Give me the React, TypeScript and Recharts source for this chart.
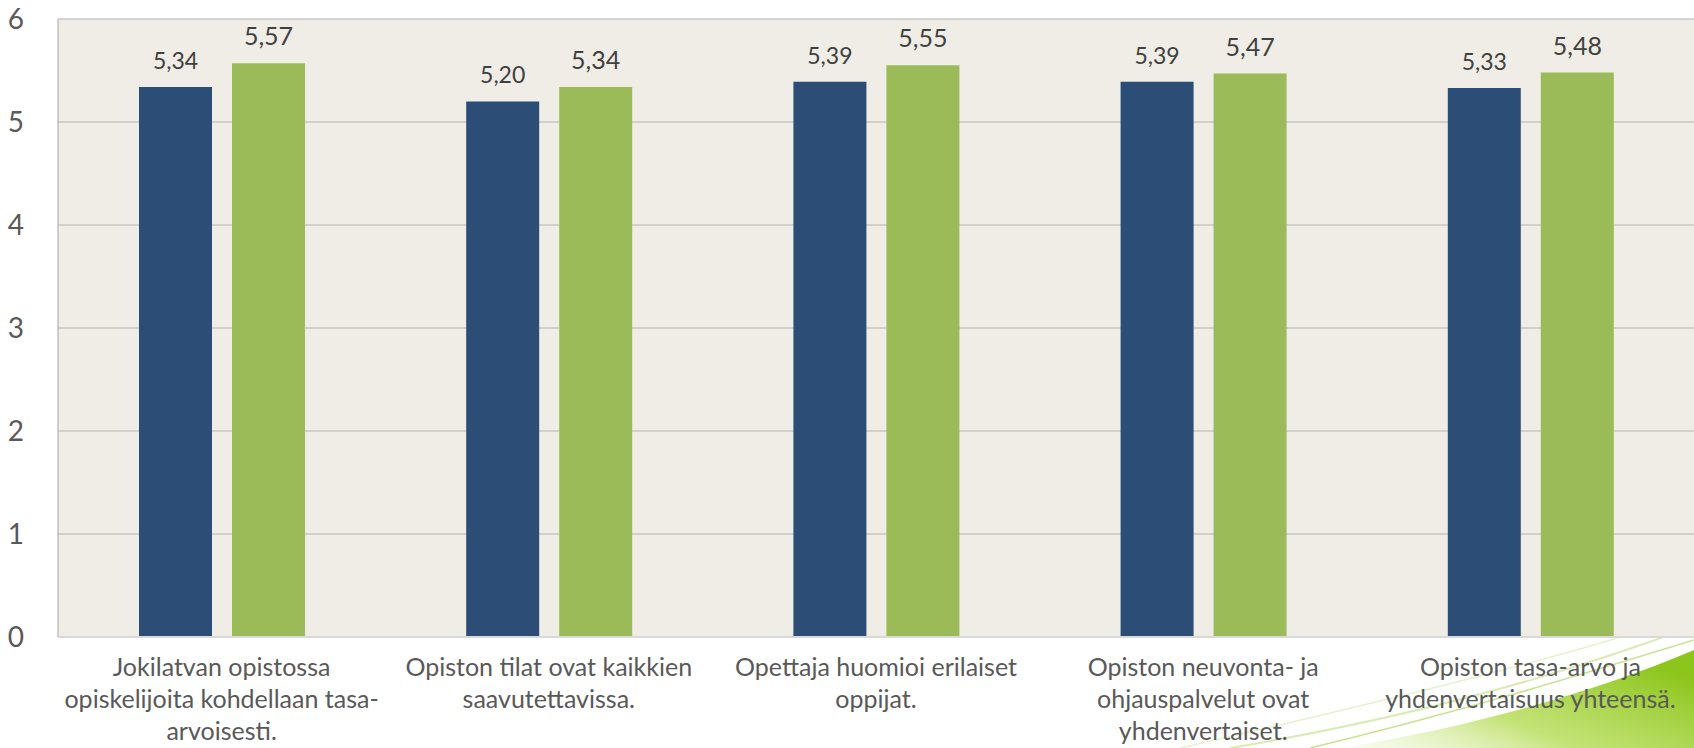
import { Bar, BarChart, CartesianGrid, LabelList, XAxis, YAxis } from "recharts";

const categories = [
  "Jokilatvan opistossa opiskelijoita kohdellaan tasa-arvoisesti.",
  "Opiston tilat ovat kaikkien saavutettavissa.",
  "Opettaja huomioi erilaiset oppijat.",
  "Opiston neuvonta- ja ohjauspalvelut ovat yhdenvertaiset.",
  "Opiston tasa-arvo ja yhdenvertaisuus yhteensä.",
];

// wrapped the way the original axis wraps them
const tickLines = [
  ["Jokilatvan opistossa", "opiskelijoita kohdellaan tasa-", "arvoisesti."],
  ["Opiston tilat ovat kaikkien", "saavutettavissa."],
  ["Opettaja huomioi erilaiset", "oppijat."],
  ["Opiston neuvonta- ja", "ohjauspalvelut ovat", "yhdenvertaiset."],
  ["Opiston tasa-arvo ja", "yhdenvertaisuus yhteensä."],
];

const seriesA = [5.34, 5.2, 5.39, 5.39, 5.33];
const seriesB = [5.57, 5.34, 5.55, 5.47, 5.48];
const yTicks = [0, 1, 2, 3, 4, 5, 6];

const data = categories.map((name, i) => ({ name, a: seriesA[i], b: seriesB[i] }));

const font = "Lato, 'Noto Sans', sans-serif";
const fmt = (v: number) => v.toFixed(2).replace(".", ",");

function CategoryTick({ x, y, index }: any) {
  const lines = tickLines[index] ?? [];
  return (
    <text x={x} y={y} textAnchor="middle" fill="#595959" fontSize={25} fontFamily={font}>
      {lines.map((l, i) => (
        <tspan key={i} x={x} y={y + 31 + i * 32}>
          {l}
        </tspan>
      ))}
    </text>
  );
}

function Swoosh() {
  return (
    <svg width={1694} height={748} style={{ position: "absolute", left: 0, top: 0 }}>
      <defs>
        <linearGradient id="sw" x1="0" y1="1" x2="1" y2="0.3">
          <stop offset="0" stopColor="#e4f2c0" stopOpacity="0.2" />
          <stop offset="0.45" stopColor="#b5dc55" stopOpacity="0.8" />
          <stop offset="1" stopColor="#8cc51c" />
        </linearGradient>
      </defs>
      <path d="M1340 748 C1470 728 1600 690 1694 650 L1694 748 Z" fill="url(#sw)" />
      <path d="M1230 748 C1410 718 1560 676 1694 626" stroke="#cfe6a0" strokeWidth={2} fill="none" opacity={0.8} />
      <path d="M1310 748 C1460 712 1590 672 1694 640" stroke="#b9dc76" strokeWidth={1.5} fill="none" opacity={0.8} />
      <path d="M1180 748 C1390 700 1570 656 1694 614" stroke="#dcebb8" strokeWidth={1.5} fill="none" opacity={0.7} />
    </svg>
  );
}

export default function App() {
  return (
    <div style={{ position: "relative", width: 1694, height: 748, background: "#fff" }}>
      <style>{`body{margin:0}`}</style>
      <Swoosh />
      <div style={{ position: "absolute", left: 0, top: 0 }}>
        <BarChart
          width={1694}
          height={748}
          data={data}
          margin={{ top: 19, right: 0, bottom: 0, left: 0 }}
          barSize={73}
          barGap={20}
        >
          <CartesianGrid vertical={false} stroke="#b3b3b3" fill="#efede5" fillOpacity={1} />
          <XAxis
            dataKey="name"
            height={111}
            tick={<CategoryTick />}
            tickLine={false}
            axisLine={{ stroke: "#d9d9d9", strokeWidth: 2 }}
            interval={0}
          />
          <YAxis
            width={58}
            domain={[0, 6]}
            ticks={yTicks}
            tickLine={false}
            axisLine={{ stroke: "#a6a6a6" }}
            tickMargin={28}
            tick={{ fill: "#595959", fontSize: 28, fontFamily: font }}
          />
          <Bar dataKey="a" fill="#2c4d75" isAnimationActive={false}>
            <LabelList
              dataKey="a"
              position="top"
              offset={18}
              formatter={(v: any) => fmt(Number(v))}
              style={{ fill: "#404040", fontSize: 23, fontFamily: font }}
            />
          </Bar>
          <Bar dataKey="b" fill="#9bbb59" isAnimationActive={false}>
            <LabelList
              dataKey="b"
              position="top"
              offset={18}
              formatter={(v: any) => fmt(Number(v))}
              style={{ fill: "#404040", fontSize: 25, fontFamily: font }}
            />
          </Bar>
        </BarChart>
      </div>
    </div>
  );
}
